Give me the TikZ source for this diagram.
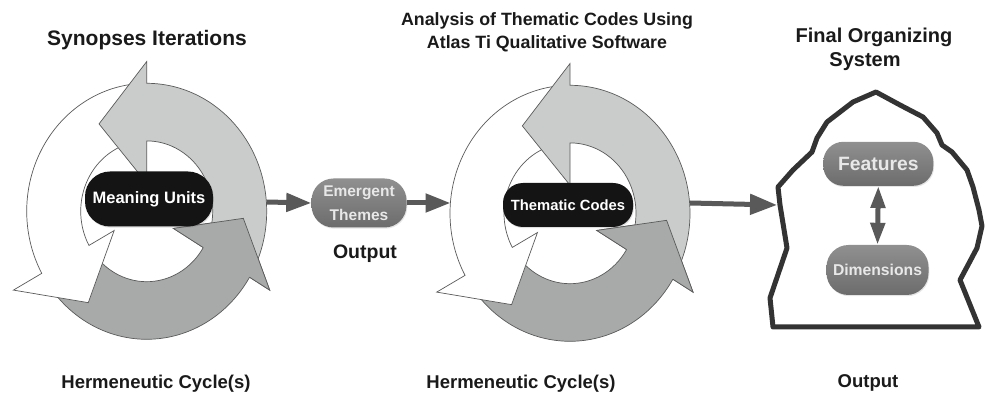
\documentclass[tikz,border=0pt]{standalone}
\usepackage{fontspec}
\setmainfont{Liberation Sans}
\usetikzlibrary{arrows.meta,shadows}
\definecolor{lgray}{HTML}{CACCCC}
\definecolor{dgray}{HTML}{A8AAAA}
\definecolor{edgec}{HTML}{5A5A5A}
\definecolor{conn}{HTML}{595959}
\definecolor{rockc}{HTML}{333333}
\definecolor{pillA}{HTML}{909090}
\definecolor{pillB}{HTML}{6C6C6C}
\definecolor{pilltext}{HTML}{E8E8E8}
\definecolor{titlec}{HTML}{1A1A1A}
\newcommand\cyclearrows{%
  \filldraw[arrowbody,fill=dgray] (215:0.55) -- (215:1) arc[start angle=215,end angle=329,radius=1] -- (329:1.196) -- (356.1:0.807) -- (329:0.26) -- (329:0.55) arc[start angle=329,end angle=215,radius=0.55] -- cycle;
  \filldraw[arrowbody,fill=white] (95:0.55) -- (95:1) arc[start angle=95,end angle=209,radius=1] -- (209:1.27) -- (235.7:0.864) -- (209:0.31) -- (209:0.55) arc[start angle=209,end angle=95,radius=0.55] -- cycle;
  \filldraw[arrowbody,fill=lgray] (-25:0.55) -- (-25:1) arc[start angle=-25,end angle=90,radius=1] -- (90:1.17) -- (120.2:0.79) -- (90:0.22) -- (90:0.55) arc[start angle=90,end angle=-25,radius=0.55] -- cycle;
  \fill[dgray] (329:1.196) -- (356.1:0.807) -- (329:0.26) -- cycle;
  \draw[arrowbody] (329:1) -- (329:1.196) -- (356.1:0.807) -- (329:0.26) -- (329:0.55);
}
\tikzset{
  arrowbody/.style={draw=edgec, line width=0.7pt, line join=miter},
  titletext/.style={font=\fontsize{18.5}{23.5}\selectfont\bfseries, text=titlec, align=center, inner sep=0pt},
  blackpill/.style={rectangle, fill=black!92, text=white, inner sep=0pt, font=\bfseries,
    drop shadow={opacity=0.25, shadow xshift=0.8pt, shadow yshift=-1.2pt}},
  graypill/.style={rectangle, top color=pillA, bottom color=pillB, text=pilltext, inner sep=0pt, align=center, font=\bfseries,
    drop shadow={opacity=0.2, shadow xshift=0.8pt, shadow yshift=-1.2pt}},
  connector/.style={draw=conn, line width=5pt},
  tipA/.style={-{Triangle[length=25pt,width=18pt]}},
  tipB/.style={-{Triangle[length=27pt,width=20pt]}},
  rockline/.style={draw=rockc, line width=5pt, line join=round}
}
\begin{document}
\begin{tikzpicture}[x=1pt,y=-1pt]
\useasboundingbox[fill=white] (0,0) rectangle (985,411);

% cycles
\begin{scope}[shift={(146.7,211.3)}, xscale=120, yscale=-128]
  \cyclearrows
\end{scope}
\begin{scope}[shift={(570,213.3)}, xscale=120, yscale=-128]
  \cyclearrows
\end{scope}

% rock outline
\draw[rockline] (876,92) -- (900,105) -- (923,117) -- (937,133) -- (942,145) -- (952,152) -- (967,170) -- (973,187) -- (979,210) -- (982,226) -- (977,248) -- (968,265) -- (960,280) -- (979,327) -- (773,327) -- (770,298) -- (787,248) -- (780,205) -- (778,187) -- (793,170) -- (812,152) -- (817,138) -- (827,122) -- (853,102) -- cycle;

% pills
\node[blackpill, minimum width=128pt, minimum height=55pt, rounded corners=25pt, font=\fontsize{16.5}{20}\selectfont\bfseries] (mu) at (149,199) {Meaning Units};
\node[blackpill, minimum width=130pt, minimum height=44pt, rounded corners=20pt, font=\fontsize{14.8}{18}\selectfont\bfseries] (tc) at (568,205) {Thematic Codes};
\node[graypill, minimum width=95pt, minimum height=49pt, rounded corners=22pt, font=\fontsize{15.5}{24}\selectfont\bfseries] (emerg) at (359,203) {Emergent\\Themes};
\node[graypill, minimum width=110pt, minimum height=44pt, rounded corners=20pt, font=\fontsize{19.3}{22}\selectfont\bfseries] (feat) at (878.3,163.8) {Features};
\node[graypill, minimum width=102pt, minimum height=50pt, rounded corners=22pt, font=\fontsize{15.7}{19}\selectfont\bfseries] (dim) at (877.5,270) {Dimensions};

% connector end points
\coordinate (c1r) at (266.5,202);
\coordinate (c2l) at (450.5,203);
\coordinate (c2r) at (690,203);
\coordinate (rockw) at (777,205);

\draw[connector, tipA] (c1r) -- (emerg.west);
\draw[connector, tipA] (emerg.east) -- (c2l);
\draw[connector, tipB] (c2r) -- (rockw);
\draw[connector, {Triangle[length=22pt,width=14pt]}-{Triangle[length=22pt,width=14pt]}] (feat.south) -- (dim.north);

% texts
\node[titletext, font=\fontsize{21}{25}\selectfont\bfseries] (t1) at (147,40) {Synopses Iterations};
\node[titletext, font=\fontsize{17.8}{23.3}\selectfont\bfseries] (t2) at (547,32) {Analysis of Thematic Codes Using\\Atlas Ti Qualitative Software};
\node[titletext, font=\fontsize{20}{24.4}\selectfont\bfseries] (t3) at (874,49.5) {Final Organizing\\System\hspace*{18pt}};
\node[titletext, font=\fontsize{19.5}{23}\selectfont\bfseries] (o1) at (365,254) {Output};
\node[titletext] (o2) at (868,383) {Output};
\node[titletext] (h1) at (156,384) {Hermeneutic Cycle(s)};
\node[titletext] (h2) at (521,384) {Hermeneutic Cycle(s)};
\end{tikzpicture}
\end{document}
